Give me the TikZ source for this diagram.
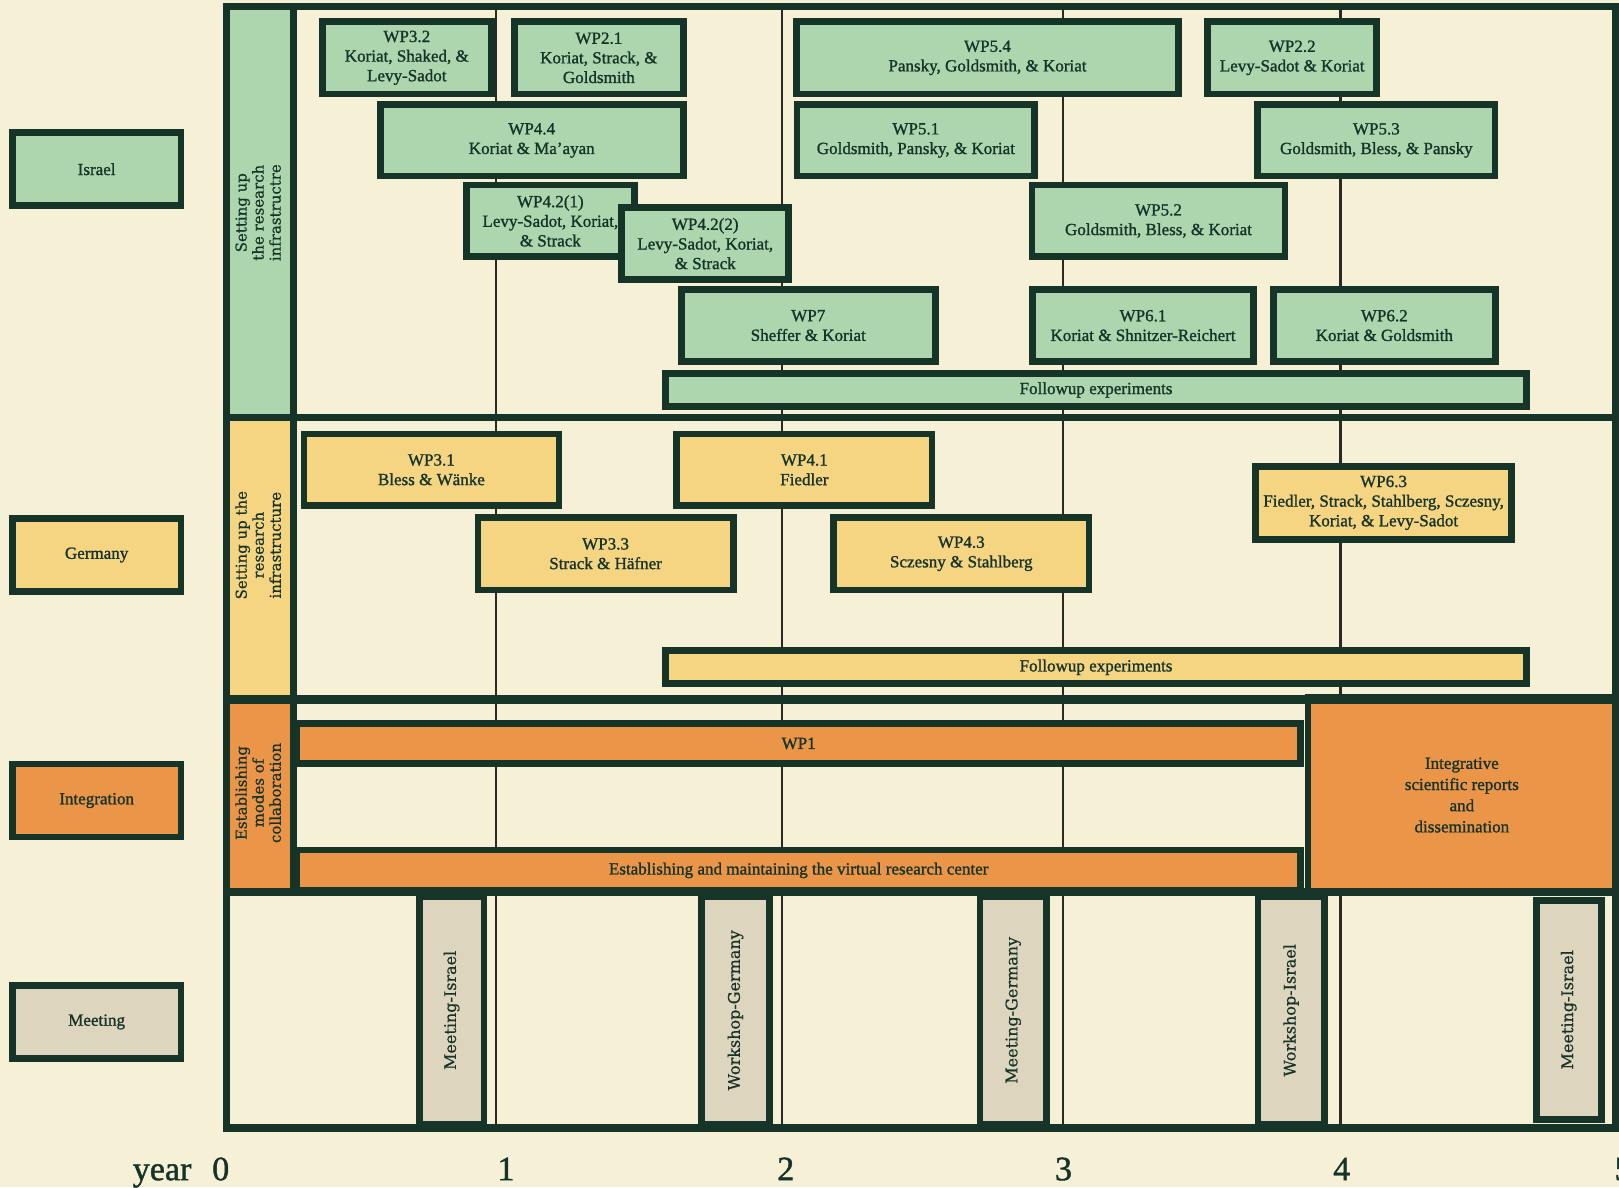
\documentclass[tikz,border=0pt]{standalone}
\usepackage{fontspec}
\setmainfont[FakeBold=1.2]{Liberation Serif}
\newfontfamily\sidefont[FakeBold=0.6]{DejaVu Serif}
\definecolor{paper}{HTML}{F6F1D6}
\definecolor{ilgreen}{HTML}{ADD6AE}
\definecolor{deyellow}{HTML}{F5D582}
\definecolor{inorange}{HTML}{EA9548}
\definecolor{mtgrey}{HTML}{DDD5BD}
\definecolor{edge}{HTML}{173429}
\definecolor{ink}{HTML}{163329}
\definecolor{gridline}{HTML}{2A2A24}

\tikzset{
  wpbox/.style={draw=edge, line width=6.5pt, align=center, text=ink, inner sep=0pt,
    font=\fontsize{16.5}{19}\selectfont},
  ilbox/.style={wpbox, fill=ilgreen},
  debox/.style={wpbox, fill=deyellow},
  inbox/.style={wpbox, fill=inorange},
  mtbox/.style={wpbox, fill=mtgrey, rotate=90, font=\sidefont\fontsize{15.5}{17}\selectfont},
  sidelabel/.style={rotate=90, align=center, text=ink, inner sep=0pt,
    font=\sidefont\fontsize{14.5}{16.5}\selectfont},
  yearlabel/.style={anchor=base, text=ink, inner sep=0pt, font=\fontsize{33}{36}\selectfont},
}

\begin{document}
\begin{tikzpicture}[x=1pt, y=-1pt]
  \fill[paper] (0,0) rectangle (1568,1150);
  \useasboundingbox (0,0) rectangle (1568,1150);

  % side strips
  \fill[ilgreen] (219.5,6.5) rectangle (284.3,404);
  \fill[deyellow] (219.5,404) rectangle (284.3,677.7);
  \fill[inorange] (219.5,677.7) rectangle (284.3,864);

  % year grid
  \foreach \gx in {480.3, 757.5, 1029.3, 1298.4}
    \draw[gridline, line width=2.4pt] (\gx,6.5) -- (\gx,1092.5);

  % legend
  \node[ilbox, minimum width=163.5, minimum height=70.5] (israel) at (93.6,163.9) {Israel};
  \node[debox, minimum width=163.5, minimum height=70.5] (germany) at (93.6,537.5) {Germany};
  \node[inbox, minimum width=163.5, minimum height=70.5] (integration) at (93.6,775.3) {Integration};
  \node[wpbox, fill=mtgrey, minimum width=163.5, minimum height=70.5] (meeting) at (93.6,989.7) {Meeting};

  % Israel
  \node[ilbox, minimum width=163.5, minimum height=70] (wp32) at (394,56) {WP3.2\\Koriat, Shaked, \&\\Levy-Sadot};
  \node[ilbox, minimum width=163.5, minimum height=70] (wp21) at (580,56) {WP2.1\\Koriat, Strack, \&\\Goldsmith};
  \node[ilbox, minimum width=369.4, minimum height=70] (wp54) at (956.4,56) {WP5.4\\Pansky, Goldsmith, \& Koriat};
  \node[ilbox, minimum width=163.6, minimum height=70] (wp22) at (1251.5,56) {WP2.2\\Levy-Sadot \& Koriat};
  \node[ilbox, minimum width=293.5, minimum height=69] (wp44) at (515,136) {WP4.4\\Koriat \& Ma'ayan};
  \node[ilbox, minimum width=230.3, minimum height=69] (wp51) at (887,136) {WP5.1\\Goldsmith, Pansky, \& Koriat};
  \node[ilbox, minimum width=230, minimum height=69] (wp53) at (1333,136) {WP5.3\\Goldsmith, Bless, \& Pansky};
  \node[ilbox, minimum width=162.5, minimum height=69.5] (wp421) at (533,214) {WP4.2(1)\\Levy-Sadot, Koriat,\\\& Strack};
  \node[ilbox, minimum width=161.5, minimum height=69.5] (wp422) at (683,236) {WP4.2(2)\\Levy-Sadot, Koriat,\\\& Strack};
  \node[ilbox, minimum width=245, minimum height=69.5] (wp52) at (1122,214) {WP5.2\\Goldsmith, Bless, \& Koriat};
  \node[ilbox, minimum width=246, minimum height=70] (wp7) at (782.8,315.3) {WP7\\Sheffer \& Koriat};
  \node[ilbox, minimum width=214.5, minimum height=70] (wp61) at (1107,315.3) {WP6.1\\Koriat \& Shnitzer-Reichert};
  \node[ilbox, minimum width=215, minimum height=70] (wp62) at (1340.7,315.3) {WP6.2\\Koriat \& Goldsmith};
  \node[ilbox, minimum width=833.3, minimum height=32] (followil) at (1061.5,377.7) {Followup experiments};

  % Germany
  \node[debox, minimum width=247, minimum height=69.5] (wp31) at (417.8,455) {WP3.1\\Bless \& Wänke};
  \node[debox, minimum width=247.5, minimum height=69.5] (wp41) at (779,455) {WP4.1\\Fiedler};
  \node[debox, minimum width=247.4, minimum height=70] (wp33) at (586.5,536.3) {WP3.3\\Strack \& Häfner};
  \node[debox, minimum width=247.5, minimum height=70] (wp43) at (931,536.3) {WP4.3\\Sczesny \& Stahlberg};
  \node[debox, minimum width=247.5, minimum height=70.4] (wp63) at (1340,487) {WP6.3\\Fiedler, Strack, Stahlberg, Sczesny,\\Koriat, \& Levy-Sadot};
  \node[debox, minimum width=833.5, minimum height=32] (followde) at (1061.5,646.3) {Followup experiments};

  % Integration
  \node[inbox, minimum width=972.5, minimum height=38.5] (wp1) at (773.5,720) {WP1};
  \node[inbox, minimum width=972.5, minimum height=39.5] (center) at (773.5,843) {Establishing and maintaining the virtual research center};
  \node[inbox, minimum width=297.9, minimum height=189.5, font=\fontsize{16.5}{20.5}\selectfont] (reports) at (1415.8,770)
    {Integrative\\scientific reports\\and\\dissemination};

  % Meetings
  \node[mtbox, minimum width=220.5, minimum height=62.8] (meetil) at (437.4,978.5) {Meeting-Israel};
  \node[mtbox, minimum width=220.5, minimum height=66.1] (workde) at (712.3,978.5) {Workshop-Germany};
  \node[mtbox, minimum width=220.5, minimum height=64.4] (meetde) at (981.3,978.5) {Meeting-Germany};
  \node[mtbox, minimum width=220.5, minimum height=64.2] (workil) at (1250.4,978.5) {Workshop-Israel};
  \node[mtbox, minimum width=212, minimum height=63] (meetil2) at (1519.3,978) {Meeting-Israel};

  % frame
  \draw[edge, line width=7pt] (219.5,6.5) rectangle (1565,1092.5);
  \draw[edge, line width=7pt] (219.5,404) -- (1565,404);
  \draw[edge, line width=9pt] (219.5,677.7) -- (1565,677.7);
  \draw[edge, line width=8pt] (219.5,864) -- (1565,864);
  \draw[edge, line width=6.5pt] (284.3,6.5) -- (284.3,864);

  % side labels
  \node[sidelabel] (ilside) at (250,206) {Setting up\\the research\\infrastructre};
  \node[sidelabel] (deside) at (250,528) {Setting up the\\research\\infrastructure};
  \node[sidelabel] (inside) at (250,768) {Establishing\\modes of\\collaboration};

  % years
  \node[yearlabel] (year) at (157,1143) {year};
  \node[yearlabel] (y0) at (213.8,1143) {0};
  \node[yearlabel] (y1) at (490,1143) {1};
  \node[yearlabel] (y2) at (761,1143) {2};
  \node[yearlabel] (y3) at (1030,1143) {3};
  \node[yearlabel] (y4) at (1299.5,1143) {4};
  \node[yearlabel] (y5) at (1572,1143) {5};
\end{tikzpicture}
\end{document}
